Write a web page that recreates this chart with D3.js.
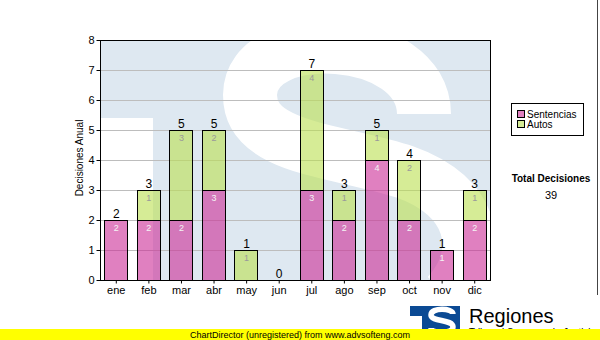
<!DOCTYPE html>
<html>
<head>
<meta charset="utf-8">
<script src="https://cdn.jsdelivr.net/npm/d3@7"></script>
<style>
  html, body { margin: 0; padding: 0; background: #fff; }
  svg { display: block; }
  text { font-family: "Liberation Sans", Arial, sans-serif; }
</style>
</head>
<body>
<svg id="chart" width="600" height="340"></svg>
<script>
// Monthly decisions, split by type
const categories = ["ene", "feb", "mar", "abr", "may", "jun", "jul", "ago", "sep", "oct", "nov", "dic"];
const sentencias = [2, 2, 2, 3, 0, 0, 3, 2, 4, 2, 1, 2];
const autos      = [0, 1, 3, 2, 1, 0, 4, 1, 1, 2, 0, 1];
const yTicks     = [0, 1, 2, 3, 4, 5, 6, 7, 8];
const seriesNames = ["Sentencias", "Autos"];

const svg = d3.select("#chart");
const plot = { left: 100, right: 490.5, top: 40, bottom: 280 };

const x = d3.scaleBand()
  .domain(categories)
  .range([99.5, 490.5])
  .paddingInner(0.285)
  .paddingOuter(0.1425);

const y = d3.scaleLinear().domain([0, 8]).range([plot.bottom, plot.top]);

const fillBase  = { Sentencias: "rgb(203,43,150)", Autos: "rgb(187,223,80)" };
const fillSolid = { Sentencias: "rgb(224,128,192)", Autos: "rgb(214,236,150)" };

// ---- plot background with the faint logo watermark ----
const defs = svg.append("defs");
defs.append("clipPath").attr("id", "plotClip")
  .append("rect")
  .attr("x", plot.left).attr("y", plot.top)
  .attr("width", plot.right - plot.left).attr("height", plot.bottom - plot.top);

const bg = svg.append("g").attr("clip-path", "url(#plotClip)");
bg.append("rect")
  .attr("x", plot.left).attr("y", plot.top)
  .attr("width", plot.right - plot.left).attr("height", plot.bottom - plot.top)
  .attr("fill", "#dee8f1");
bg.append("rect")
  .attr("x", plot.left).attr("y", 118)
  .attr("width", 53).attr("height", plot.bottom - 118)
  .attr("fill", "#fff");
bg.append("path")
  .attr("d", "M 424,114 C 424,32 250,24 250,95 C 250,150 340,150 405,172 C 474,196 486,252 448,295")
  .attr("fill", "none")
  .attr("stroke", "#fff")
  .attr("stroke-width", 54);

// ---- gridlines ----
svg.append("g")
  .selectAll("line")
  .data(yTicks.filter(d => d > 0 && d < 8))
  .join("line")
  .attr("x1", plot.left).attr("x2", plot.right)
  .attr("y1", d => Math.round(y(d)) + 0.5).attr("y2", d => Math.round(y(d)) + 0.5)
  .attr("stroke", "#bdbdbd").attr("stroke-width", 1);

// ---- stacked bars ----
const rows = categories.map((c, i) => ({ cat: c, Sentencias: sentencias[i], Autos: autos[i] }));
const stacked = d3.stack().keys(seriesNames)(rows);

const layers = svg.append("g").selectAll("g")
  .data(stacked)
  .join("g");

layers.selectAll("rect")
  .data(s => s.map(d => ({ key: s.key, d })).filter(o => o.d[1] > o.d[0]))
  .join("rect")
  .attr("x", o => Math.round(x(o.d.data.cat)) + 0.5)
  .attr("y", o => Math.round(y(o.d[1])) + 0.5)
  .attr("width", Math.round(x.bandwidth()))
  .attr("height", o => Math.round(y(o.d[0])) - Math.round(y(o.d[1])))
  .attr("fill", o => fillBase[o.key])
  .attr("fill-opacity", 0.6)
  .attr("stroke", "#000")
  .attr("stroke-width", 1);

// segment values inside bars
layers.selectAll("text")
  .data(s => s.map(d => ({ key: s.key, d })).filter(o => o.d[1] > o.d[0]))
  .join("text")
  .attr("x", o => x(o.d.data.cat) + x.bandwidth() / 2 + 0.5)
  .attr("y", o => y(o.d[1]) + 11)
  .attr("text-anchor", "middle")
  .attr("font-size", 9)
  .attr("font-family", "DejaVu Sans, sans-serif")
  .attr("fill", o => o.key === "Sentencias" ? "#f4f4f4" : "#9a9a9a")
  .text(o => o.d[1] - o.d[0]);

// totals above bars
svg.append("g").selectAll("text")
  .data(rows)
  .join("text")
  .attr("x", d => x(d.cat) + x.bandwidth() / 2 + 0.5)
  .attr("y", d => y(d.Sentencias + d.Autos) - 2)
  .attr("text-anchor", "middle")
  .attr("font-size", 12)
  .attr("fill", "#000")
  .text(d => d.Sentencias + d.Autos);

// ---- frame and axes ----
svg.append("rect")
  .attr("x", plot.left + 0.5).attr("y", plot.top + 0.5)
  .attr("width", plot.right - plot.left - 0.5).attr("height", plot.bottom - plot.top)
  .attr("fill", "none").attr("stroke", "#000").attr("stroke-width", 1);

const yAxis = svg.append("g")
  .attr("transform", `translate(${plot.left + 0.5},0)`)
  .call(d3.axisLeft(y).tickValues(yTicks).tickSize(4).tickPadding(2).tickFormat(d3.format("d")));
yAxis.select(".domain").remove();
yAxis.selectAll("text").attr("font-size", 11).attr("fill", "#000")
  .attr("font-family", "Liberation Sans, Arial, sans-serif");
yAxis.selectAll("line").attr("stroke", "#000");

const xAxis = svg.append("g")
  .attr("transform", `translate(0.5,${plot.bottom + 0.5})`)
  .call(d3.axisBottom(x).tickSize(3).tickPadding(3));
xAxis.select(".domain").remove();
xAxis.selectAll("text").attr("font-size", 11).attr("fill", "#000")
  .attr("font-family", "Liberation Sans, Arial, sans-serif");
xAxis.selectAll("line").attr("stroke", "#000");

svg.append("text")
  .attr("transform", "translate(83,158) rotate(-90)")
  .attr("text-anchor", "middle")
  .attr("font-size", 10)
  .attr("fill", "#000")
  .text("Decisiones Anual");

// ---- legend ----
const legend = svg.append("g");
legend.append("rect")
  .attr("x", 511.5).attr("y", 103.5).attr("width", 72).attr("height", 32)
  .attr("fill", "#fff").attr("stroke", "#000");
seriesNames.forEach((name, i) => {
  legend.append("rect")
    .attr("x", 517.5).attr("y", 110.5 + i * 10).attr("width", 7).attr("height", 7)
    .attr("fill", fillSolid[name]).attr("stroke", "#000");
  legend.append("text")
    .attr("x", 527).attr("y", 117.5 + i * 10)
    .attr("font-size", 10).attr("fill", "#000")
    .text(name);
});

// ---- total ----
const total = d3.sum(sentencias) + d3.sum(autos);
svg.append("text")
  .attr("x", 551).attr("y", 182)
  .attr("text-anchor", "middle")
  .attr("font-size", 10).attr("font-weight", "bold").attr("fill", "#000")
  .text("Total Decisiones");
svg.append("text")
  .attr("x", 551).attr("y", 199)
  .attr("text-anchor", "middle")
  .attr("font-size", 11).attr("fill", "#000")
  .text(total);

// right edge rule
svg.append("line")
  .attr("x1", 597.5).attr("x2", 597.5).attr("y1", 0).attr("y2", 295)
  .attr("stroke", "#444");

// ---- footer logo ----
const logo = svg.append("g");
logo.append("rect").attr("x", 410).attr("y", 306).attr("width", 50).attr("height", 27).attr("fill", "#0b4a94");
logo.append("rect").attr("x", 410).attr("y", 316).attr("width", 12).attr("height", 17).attr("fill", "#fff");
logo.append("path")
  .attr("d", "M 453,314 C 453,308 431,307 431,315 C 431,322 453,319 453,327 C 453,334 431,334 431,328")
  .attr("fill", "none").attr("stroke", "#fff").attr("stroke-width", 5.5);
logo.append("text")
  .attr("x", 469).attr("y", 323)
  .attr("font-size", 20).attr("fill", "#000")
  .text("Regiones");
logo.append("text")
  .attr("x", 469).attr("y", 336)
  .attr("font-size", 10.5).attr("fill", "#000")
  .attr("textLength", 127).attr("lengthAdjust", "spacingAndGlyphs")
  .text("Tribunal Supremo de Justicia");

// ---- footer banner ----
svg.append("rect").attr("x", 0).attr("y", 329).attr("width", 600).attr("height", 11).attr("fill", "#ffff00");
svg.append("text")
  .attr("x", 190).attr("y", 338)
  .attr("font-size", 9).attr("fill", "#000")
  .text("ChartDirector (unregistered) from www.advsofteng.com");
</script>
</body>
</html>
